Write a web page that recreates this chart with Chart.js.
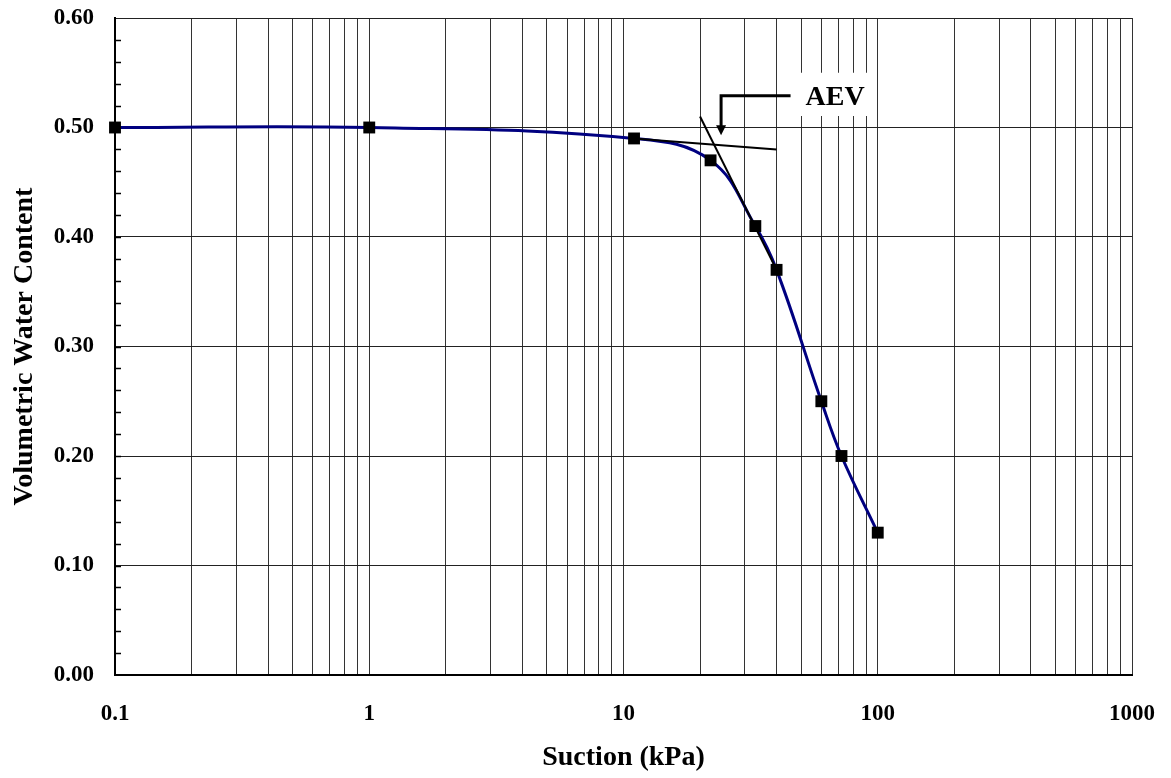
<!DOCTYPE html>
<html>
<head>
<meta charset="utf-8">
<script src="https://cdn.jsdelivr.net/npm/chart.js@4/dist/chart.umd.min.js"></script>
<style>
  html, body { margin: 0; padding: 0; background: #fff; }
  #wrap { width: 1171px; height: 778px; }
</style>
</head>
<body>
<div id="wrap"><canvas id="swcc" width="1171" height="778"></canvas></div>
<script>
// ─── DATA ─────────────────────────────────────────────────────
const suction      = [0.1, 1, 11, 22, 33, 40, 60, 72, 100];          // kPa
const waterContent = [0.50, 0.50, 0.49, 0.47, 0.41, 0.37, 0.25, 0.20, 0.13];

// tangent lines used to locate the air-entry value
const flatTangentX  = [11, 40];
const flatTangentY  = [0.49, 0.48];
const steepTangentX = [20, 40];
const steepTangentY = [0.51, 0.37];

// ─── TICKS ────────────────────────────────────────────────────
const xMajorTicks = [0.1, 1, 10, 100, 1000];
const xTickLabels = ['0.1', '1', '10', '100', '1000'];
const xMinorSteps = [2, 3, 4, 5, 6, 7, 8, 9];
const yTicks      = [0, 0.1, 0.2, 0.3, 0.4, 0.5, 0.6];
const yTickLabels = ['0.00', '0.10', '0.20', '0.30', '0.40', '0.50', '0.60'];
const yMinorStep  = 0.02;

// ─── ANNOTATION (AEV arrow + label) ───────────────────────────
const aevLabel = 'AEV';
const aevArrow = { x: 24.2, xEnd: 45.4, yTop: 0.529, yTip: 0.493 };

const FONT = 'Liberation Serif';

const xGridValues = [];
xMajorTicks.forEach((d, i) => {
    xGridValues.push(d);
    if (i < xMajorTicks.length - 1) xMinorSteps.forEach(m => xGridValues.push(d * m));
});

const toPoints = (xs, ys) => xs.map((x, i) => ({ x, y: ys[i] }));

// ─── PLUGIN: minor ticks, label box, arrow ────────────────────
const extras = {
    id: 'extras',
    beforeDatasetsDraw(chart) {
        const { ctx, scales: { x, y } } = chart;
        // white box behind the label hides the grid
        const left  = x.getPixelForValue(48.4);
        const right = x.getPixelForValue(100) - 1.5;
        const top   = y.getPixelForValue(0.55);
        const bot   = y.getPixelForValue(0.5105);
        ctx.save();
        ctx.fillStyle = '#fff';
        ctx.fillRect(left, top, right - left, bot - top);
        ctx.fillStyle = '#000';
        ctx.font = `bold 28px "${FONT}"`;
        ctx.textAlign = 'left';
        ctx.textBaseline = 'alphabetic';
        ctx.fillText(aevLabel, x.getPixelForValue(52), y.getPixelForValue(0.5205));
        ctx.restore();
    },
    afterDatasetsDraw(chart) {
        const { ctx, chartArea, scales: { x, y } } = chart;
        ctx.save();
        // inward minor ticks on the value axis
        ctx.strokeStyle = '#000';
        ctx.lineWidth = 1.5;
        for (let v = yMinorStep; v < 0.6; v += yMinorStep) {
            const py = Math.round(y.getPixelForValue(v)) + 0.5;
            ctx.beginPath();
            ctx.moveTo(chartArea.left, py);
            ctx.lineTo(chartArea.left + 6, py);
            ctx.stroke();
        }
        // AEV arrow
        const ax = x.getPixelForValue(aevArrow.x);
        const ay = y.getPixelForValue(aevArrow.yTop);
        const tip = y.getPixelForValue(aevArrow.yTip);
        ctx.lineWidth = 3;
        ctx.beginPath();
        ctx.moveTo(x.getPixelForValue(aevArrow.xEnd), ay);
        ctx.lineTo(ax, ay);
        ctx.lineTo(ax, tip - 8);
        ctx.stroke();
        ctx.fillStyle = '#000';
        ctx.beginPath();
        ctx.moveTo(ax - 5, tip - 10);
        ctx.lineTo(ax + 5, tip - 10);
        ctx.lineTo(ax, tip);
        ctx.closePath();
        ctx.fill();
        ctx.restore();
    }
};

// ─── CHART ────────────────────────────────────────────────────
new Chart(document.getElementById('swcc'), {
    type: 'line',
    data: {
        datasets: [
            {
                data: toPoints(flatTangentX, flatTangentY),
                borderColor: '#000', borderWidth: 2, pointRadius: 0, tension: 0
            },
            {
                data: toPoints(steepTangentX, steepTangentY),
                borderColor: '#000', borderWidth: 2, pointRadius: 0, tension: 0
            },
            {
                data: toPoints(suction, waterContent),
                borderColor: '#000080', borderWidth: 3,
                tension: 0.4,
                clip: false,
                pointStyle: 'rect', pointRadius: 8.4,
                pointBackgroundColor: '#000', pointBorderColor: '#000', pointBorderWidth: 0
            }
        ]
    },
    options: {
        responsive: false,
        animation: false,
        layout: { padding: { top: 18, right: 39, left: 0, bottom: 0 } },
        plugins: { legend: { display: false }, tooltip: { enabled: false } },
        scales: {
            x: {
                type: 'logarithmic',
                position: 'bottom',
                min: 0.1, max: 1000,
                afterBuildTicks: s => { s.ticks = xGridValues.map(v => ({ value: v })); },
                afterFit: s => { s.height = 103; s.paddingLeft = 0; s.paddingRight = 0; },
                ticks: {
                    autoSkip: false, maxRotation: 0, padding: 25,
                    color: '#000',
                    font: { family: FONT, size: 23, weight: 'bold' },
                    callback: v => {
                        const i = xMajorTicks.findIndex(m => Math.abs(m - v) < 1e-9 * Math.max(1, m));
                        return i >= 0 ? xTickLabels[i] : '';
                    }
                },
                grid: { color: '#333', lineWidth: 1, drawTicks: false },
                border: { display: true, color: '#000', width: 2 },
                title: {
                    display: true, text: 'Suction (kPa)', color: '#000',
                    font: { family: FONT, size: 28, weight: 'bold' },
                    padding: { top: 0, bottom: 3 }
                }
            },
            y: {
                type: 'linear',
                min: 0, max: 0.6,
                afterBuildTicks: s => { s.ticks = yTicks.map(v => ({ value: v })); },
                afterFit: s => { s.width = 115; s.paddingTop = 0; s.paddingBottom = 0; },
                ticks: {
                    padding: 21,
                    color: '#000',
                    font: { family: FONT, size: 23, weight: 'bold' },
                    callback: (v, i) => yTickLabels[i]
                },
                grid: { color: '#222', lineWidth: 1, drawTicks: false },
                border: { display: true, color: '#000', width: 2 },
                title: {
                    display: true, text: 'Volumetric Water Content', color: '#000',
                    font: { family: FONT, size: 28, weight: 'bold' },
                    padding: { top: 8, bottom: 0 }
                }
            }
        }
    },
    plugins: [extras]
});
</script>
</body>
</html>
